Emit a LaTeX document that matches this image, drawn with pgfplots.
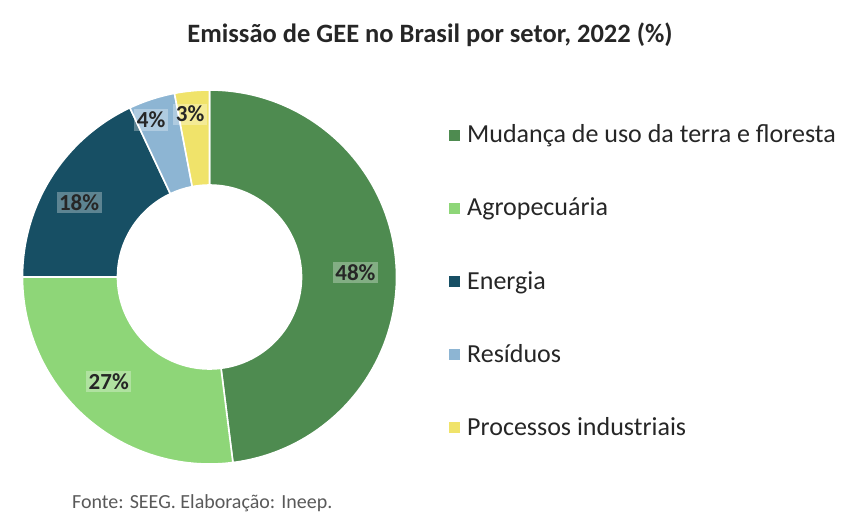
\documentclass[border=0pt]{standalone}
\usepackage{pgfplots}
\pgfplotsset{compat=1.18}
\usepackage{pgfplotstable}
\usepackage{fontspec}
\setmainfont{Carlito}

\definecolor{cMud}{HTML}{4E8B50}
\definecolor{cAgr}{HTML}{8ED678}
\definecolor{cEne}{HTML}{174F64}
\definecolor{cRes}{HTML}{8DB5D3}
\definecolor{cPro}{HTML}{F0E36A}
\definecolor{txt}{HTML}{262626}
\definecolor{fonte}{HTML}{595959}

% setor, participacao (%), cor, raio e desvio angular do rotulo
\pgfplotstableread[col sep=comma]{
setor,valor,cor,lr,da
Mudança de uso da terra e floresta,48,cMud,146,-2
Agropecuária,27,cAgr,145,-2.6
Energia,18,cEne,150,2.8
Resíduos,4,cRes,167.5,2.4
Processos industriais,3,cPro,164,1.4
}\emissoes

\begin{document}
\begin{tikzpicture}
\begin{axis}[
    x=1pt, y=1pt,
    xmin=0, xmax=857, ymin=0, ymax=523,
    hide axis, clip=false
  ]
  \pgfplotsextra{
    \path (axis cs:0,0) rectangle (axis cs:857,523);
    \pgfplotstablegetrowsof{\emissoes}
    \pgfmathtruncatemacro\nrows{\pgfplotsretval-1}
    \xdef\ang{90}
    \foreach \i in {0,...,\nrows}{
      \pgfplotstablegetelem{\i}{valor}\of\emissoes \let\val\pgfplotsretval
      \pgfplotstablegetelem{\i}{cor}\of\emissoes \let\cor\pgfplotsretval
      \pgfplotstablegetelem{\i}{setor}\of\emissoes \let\lab\pgfplotsretval
      \pgfplotstablegetelem{\i}{lr}\of\emissoes \let\lrad\pgfplotsretval
      \pgfplotstablegetelem{\i}{da}\of\emissoes \let\dang\pgfplotsretval
      \pgfmathsetmacro\fim{\ang-3.6*\val}
      \pgfmathsetmacro\meio{(\ang+\fim)/2+\dang}
      % fatia
      \path[fill=\cor, draw=white, line width=1.6pt]
        (axis cs:{209.5+187*cos(\ang)},{246+187*sin(\ang)})
        arc[start angle=\ang, end angle=\fim, radius=187pt]
        -- (axis cs:{209.5+92*cos(\fim)},{246+92*sin(\fim)})
        arc[start angle=\fim, end angle=\ang, radius=92pt] -- cycle;
      % rotulo
      \node[font=\bfseries\fontsize{23}{27}\selectfont, text=txt,
            fill=white, fill opacity=0.3, text opacity=1, inner sep=2.5pt]
        at (axis cs:{209.5+\lrad*cos(\meio)},{246+\lrad*sin(\meio)}) {\val\%};
      % legenda
      \path[fill=\cor] (axis cs:449,{523-143-73*\i+2}) rectangle (axis cs:460,{523-143-73*\i+13});
      \node[anchor=base west, inner sep=0pt, text=txt, font=\fontsize{26}{30}\selectfont]
        at (axis cs:467,{523-143-73*\i}) {\lab};
      \xdef\ang{\fim}
    }
    \node[anchor=base, inner sep=0pt, text=txt, font=\bfseries\fontsize{26.5}{30}\selectfont]
      at (axis cs:430,480) {Emissão de GEE no Brasil por setor, 2022 (\%)};
    \node[anchor=base west, inner sep=0pt, text=fonte, font=\fontsize{20}{24}\selectfont]
      at (axis cs:72,15) {Fonte: SEEG. Elaboração: Ineep.};
  }
\end{axis}
\end{tikzpicture}
\end{document}
